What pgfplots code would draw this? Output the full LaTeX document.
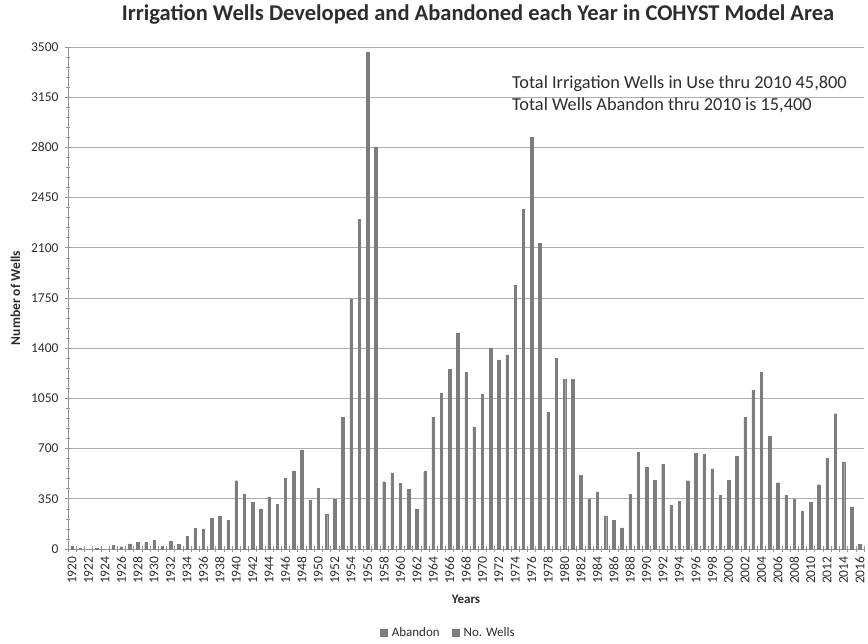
\documentclass[border=0pt]{standalone}
\usepackage{pgfplots}
\pgfplotsset{compat=1.18}
\usepackage{pgfplotstable}
\usepackage{fontspec}
\setmainfont{Carlito}

\pgfplotstableread{
year wells
1920 19
1921 7
1922 0
1923 5
1924 0
1925 26
1926 16
1927 35
1928 44
1929 44
1930 58
1931 19
1932 51
1933 33
1934 89
1935 142
1936 140
1937 217
1938 231
1939 198
1940 476
1941 385
1942 327
1943 280
1944 364
1945 310
1946 492
1947 544
1948 691
1949 341
1950 425
1951 240
1952 345
1953 919
1954 1745
1955 2296
1956 3466
1957 2803
1958 469
1959 530
1960 457
1961 415
1962 280
1963 539
1964 919
1965 1087
1966 1253
1967 1505
1968 1232
1969 852
1970 1078
1971 1402
1972 1318
1973 1353
1974 1836
1975 2366
1976 2868
1977 2129
1978 952
1979 1330
1980 1185
1981 1181
1982 513
1983 350
1984 399
1985 231
1986 201
1987 147
1988 385
1989 674
1990 569
1991 478
1992 590
1993 303
1994 331
1995 476
1996 667
1997 658
1998 558
1999 376
2000 478
2001 644
2002 917
2003 1104
2004 1230
2005 784
2006 462
2007 376
2008 350
2009 264
2010 324
2011 448
2012 635
2013 943
2014 607
2015 294
2016 30
}\wells

\begin{document}
\begin{tikzpicture}
\definecolor{barcol}{RGB}{125,125,125}
\definecolor{gridcol}{RGB}{175,175,175}
\definecolor{axcol}{RGB}{150,150,150}
\definecolor{txtcol}{RGB}{45,45,45}
\path[use as bounding box] (0pt,0pt) rectangle (868pt,643pt);
\node[font=\fontsize{22.5}{26}\selectfont\bfseries, text=txtcol] at (478pt,628pt)
  {Irrigation Wells Developed and Abandoned each Year in COHYST Model Area};
\begin{axis}[
at={(68pt,94pt)}, anchor=south west,
scale only axis,
width=796pt, height=502pt,
xmin=1919.5, xmax=2016.5,
ymin=0, ymax=3500,
ytick={0,350,...,3500},
minor y tick num=4,
xtick={1920,1922,...,2016},
minor xtick={1919.5,1920.5,...,2016.5},
ymajorgrids,
grid style={gridcol, line width=0.8pt},
axis x line*=bottom,
axis y line*=left,
axis line style={axcol, line width=0.8pt},
tick style={axcol, line width=0.6pt},
tick align=center,
major tick length=6pt,
minor tick length=5pt,
major x tick style={draw=none},
/pgf/number format/assume math mode=true,
/pgf/number format/1000 sep={},
tick label style={font=\fontsize{13.5}{15}\selectfont, text=txtcol},
yticklabel style={xshift=-3pt},
xticklabel style={rotate=90, anchor=east, xshift=-1pt},
xlabel={Years},
xlabel style={font=\fontsize{13}{15}\selectfont\bfseries, text=txtcol, yshift=-4pt},
ylabel={Number of Wells},
ylabel style={font=\fontsize{13.5}{15}\selectfont\bfseries, text=txtcol, yshift=4pt},
legend style={at={(0.478,-0.167)}, anchor=center, draw=none,
  font=\fontsize{13}{15}\selectfont, text=txtcol, legend columns=2,
  /tikz/every odd column/.append style={column sep=2pt},
  /tikz/every even column/.append style={column sep=10pt}},
legend image code/.code={\fill[#1] (0pt,-3.8pt) rectangle (7.5pt,3.8pt);},
]
\addlegendimage{fill=barcol, draw=none}
\addlegendentry{Abandon}
\addplot[ybar, bar width=0.3, fill=barcol, draw=barcol] table[x=year, y=wells] {\wells};
\addlegendentry{No. Wells}
\node[anchor=west, align=left, font=\fontsize{18.3}{22}\selectfont, text=txtcol, inner sep=0pt]
  at (axis cs:1973.6,3170)
  {Total Irrigation Wells in Use thru 2010 45,800\\Total Wells Abandon thru 2010 is 15,400};
\end{axis}
\end{tikzpicture}
\end{document}
